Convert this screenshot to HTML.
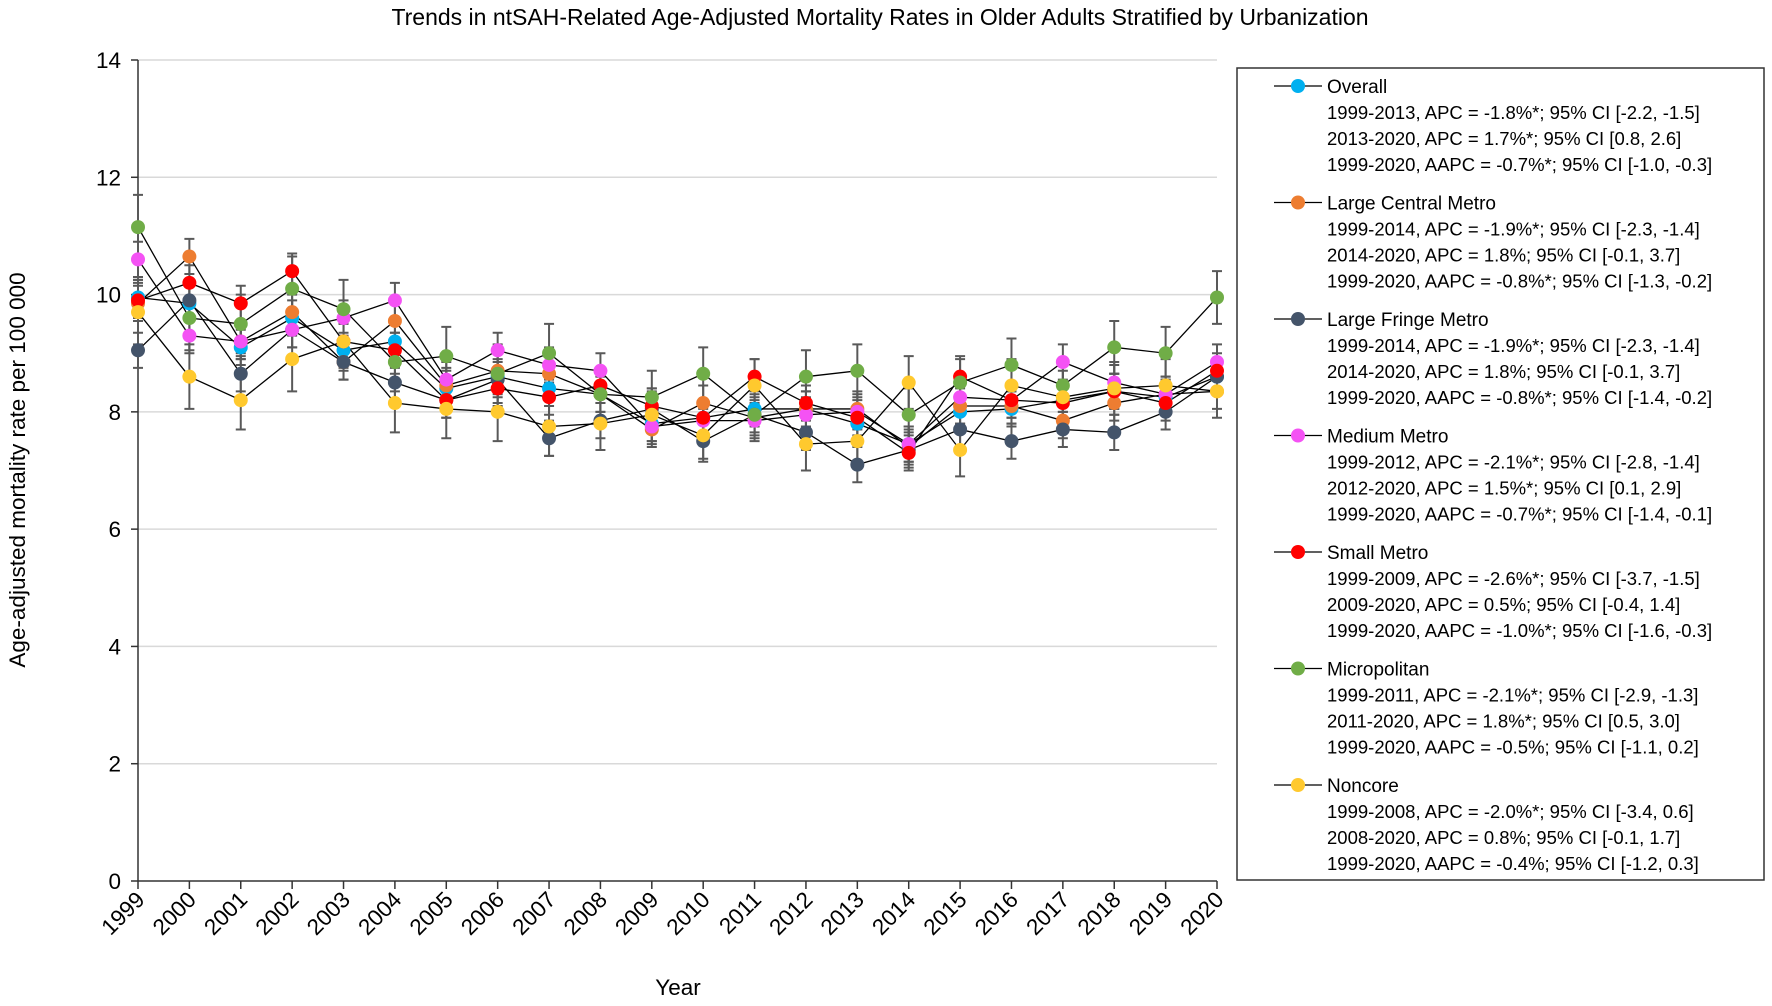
<!DOCTYPE html>
<html><head><meta charset="utf-8">
<style>
body{margin:0;background:#fff;}
svg text{font-family:"Liberation Sans",sans-serif;}
</style></head>
<body>
<svg id="chart" width="1772" height="1001" xmlns="http://www.w3.org/2000/svg">
<text x="880" y="25" text-anchor="middle" font-size="23" fill="#000">Trends in ntSAH-Related Age-Adjusted Mortality Rates in Older Adults Stratified by Urbanization</text>
<text transform="translate(25,470) rotate(-90)" text-anchor="middle" font-size="22.5" fill="#000">Age-adjusted mortality rate per 100 000</text>
<text x="678" y="995" text-anchor="middle" font-size="22.5" fill="#000">Year</text>
<g id="grid"></g><g id="axes"></g><g id="errs"></g><g id="lines"></g><g id="marks"></g>
<g id="legend"></g>
</svg>
<script>
const years=[1999,2000,2001,2002,2003,2004,2005,2006,2007,2008,2009,2010,2011,2012,2013,2014,2015,2016,2017,2018,2019,2020];
const yTicks=[0,2,4,6,8,10,12,14];
const names=["Overall","Large Central Metro","Large Fringe Metro","Medium Metro","Small Metro","Micropolitan","Noncore"];
const colors=["#00B0F0","#ED7D31","#44546A","#F452F4","#FF0000","#70AD47","#FFC92E"];
const overall=[9.95,9.85,9.1,9.6,9.05,9.2,8.4,8.6,8.4,8.3,7.8,7.9,8.05,8.05,7.8,7.45,8.0,8.05,8.2,8.35,8.25,8.6];
const largeCentral=[9.85,10.65,9.2,9.7,8.85,9.55,8.45,8.7,8.65,8.3,7.7,8.15,7.9,8.05,8.05,7.4,8.1,8.1,7.85,8.15,8.3,8.35];
const largeFringe=[9.05,9.9,8.65,9.4,8.85,8.5,8.2,8.55,7.55,7.85,8.05,7.5,7.95,7.65,7.1,7.35,7.7,7.5,7.7,7.65,8.0,8.6];
const medium=[10.6,9.3,9.2,9.4,9.6,9.9,8.55,9.05,8.8,8.7,7.75,7.85,7.85,7.95,8.0,7.45,8.25,8.2,8.85,8.5,8.3,8.85];
const small=[9.9,10.2,9.85,10.4,9.2,9.05,8.2,8.4,8.25,8.45,8.1,7.9,8.6,8.15,7.9,7.3,8.6,8.2,8.15,8.35,8.15,8.7];
const micro=[11.15,9.6,9.5,10.1,9.75,8.85,8.95,8.65,9.0,8.3,8.25,8.65,7.95,8.6,8.7,7.95,8.5,8.8,8.45,9.1,9.0,9.95];
const noncore=[9.7,8.6,8.2,8.9,9.2,8.15,8.05,8.0,7.75,7.8,7.95,7.6,8.45,7.45,7.5,8.5,7.35,8.45,8.25,8.4,8.45,8.35];
const errSmall=[0.3,0.3,0.3,0.3,0.3,0.3,0.3,0.3,0.3,0.3,0.3,0.3,0.3,0.3,0.3,0.3,0.3,0.3,0.3,0.3,0.3,0.3];
const errMicro=[0.55,0.55,0.5,0.55,0.5,0.5,0.5,0.5,0.5,0.45,0.45,0.45,0.45,0.45,0.45,0.45,0.45,0.45,0.45,0.45,0.45,0.45];
const errNoncore=[0.55,0.55,0.5,0.55,0.5,0.5,0.5,0.5,0.5,0.45,0.45,0.45,0.45,0.45,0.45,0.45,0.45,0.45,0.45,0.45,0.45,0.45];
const series=[overall,largeCentral,largeFringe,medium,small,micro,noncore];
const errors=[errSmall,errSmall,errSmall,errSmall,errSmall,errMicro,errNoncore];
const legendText=[
["1999-2013, APC = -1.8%*; 95% CI [-2.2, -1.5]","2013-2020, APC = 1.7%*; 95% CI [0.8, 2.6]","1999-2020, AAPC = -0.7%*; 95% CI [-1.0, -0.3]"],
["1999-2014, APC = -1.9%*; 95% CI [-2.3, -1.4]","2014-2020, APC = 1.8%; 95% CI [-0.1, 3.7]","1999-2020, AAPC = -0.8%*; 95% CI [-1.3, -0.2]"],
["1999-2014, APC = -1.9%*; 95% CI [-2.3, -1.4]","2014-2020, APC = 1.8%; 95% CI [-0.1, 3.7]","1999-2020, AAPC = -0.8%*; 95% CI [-1.4, -0.2]"],
["1999-2012, APC = -2.1%*; 95% CI [-2.8, -1.4]","2012-2020, APC = 1.5%*; 95% CI [0.1, 2.9]","1999-2020, AAPC = -0.7%*; 95% CI [-1.4, -0.1]"],
["1999-2009, APC = -2.6%*; 95% CI [-3.7, -1.5]","2009-2020, APC = 0.5%; 95% CI [-0.4, 1.4]","1999-2020, AAPC = -1.0%*; 95% CI [-1.6, -0.3]"],
["1999-2011, APC = -2.1%*; 95% CI [-2.9, -1.3]","2011-2020, APC = 1.8%*; 95% CI [0.5, 3.0]","1999-2020, AAPC = -0.5%; 95% CI [-1.1, 0.2]"],
["1999-2008, APC = -2.0%*; 95% CI [-3.4, 0.6]","2008-2020, APC = 0.8%; 95% CI [-0.1, 1.7]","1999-2020, AAPC = -0.4%; 95% CI [-1.2, 0.3]"]];
const NS="http://www.w3.org/2000/svg";
const X0=138,X1=1217,Y0=881,Y1=60;
const xS=i=>X0+(X1-X0)*i/(years.length-1);
const yS=v=>Y0-(Y0-Y1)*v/14;
function mk(tag,attrs,parent,text){const e=document.createElementNS(NS,tag);for(const k in attrs)e.setAttribute(k,attrs[k]);if(text!==undefined)e.textContent=text;document.getElementById(parent).appendChild(e);return e;}
yTicks.forEach(t=>{
 if(t>0){const g=mk('line',{x1:X0,x2:X1,y1:yS(t),y2:yS(t),stroke:'#d9d9d9','stroke-width':1.5},'grid');
 
 }
 const tk=mk('line',{x1:X0-7,x2:X0,y1:yS(t),y2:yS(t),stroke:'#333','stroke-width':1.5},'axes');
 
 
 const l=mk('text',{x:X0-17,y:yS(t)+8,'text-anchor':'end','font-size':22.5,fill:'#000'},'axes',t);
 
 
});
const ya=mk('line',{x1:X0,x2:X0,y1:Y1,y2:Y0,stroke:'#333','stroke-width':1.5},'axes');


const xa=mk('line',{x1:X0,x2:X1,y1:Y0,y2:Y0,stroke:'#333','stroke-width':1.5},'axes');


years.forEach((yr,i)=>{
 const tk=mk('line',{x1:xS(i),x2:xS(i),y1:Y0,y2:Y0+8,stroke:'#333','stroke-width':1.5},'axes');
 
 
 const l=mk('text',{transform:`translate(${xS(i)+8},${Y0+20}) rotate(-45)`,'text-anchor':'end','font-size':22.5,fill:'#000'},'axes',yr);
 
 
});
series.forEach((s,k)=>{
 s.forEach((v,i)=>{
  const e=errors[k][i],x=xS(i);
  const p=mk('path',{d:`M${x},${yS(v-e)}V${yS(v+e)}M${x-5},${yS(v-e)}H${x+5}M${x-5},${yS(v+e)}H${x+5}`,stroke:'#595959','stroke-width':2,fill:'none'},'errs');
  
  
 });
 const pl=mk('polyline',{points:s.map((v,i)=>xS(i)+','+yS(v)).join(' '),fill:'none',stroke:'#000','stroke-width':1.3},'lines');
 
 
});
series.forEach((s,k)=>{
 s.forEach((v,i)=>{
  const c=mk('circle',{cx:xS(i),cy:yS(v),r:7,fill:colors[k]},'marks');
  
  
 });
});
const box=mk('rect',{x:1237,y:68,width:527,height:812,fill:'#fff',stroke:'#333','stroke-width':1.5},'legend');


names.forEach((n,k)=>{
 const y=86+k*116.5;
 const ln=mk('line',{x1:1274,x2:1322,y1:y,y2:y,stroke:'#000','stroke-width':1.3},'legend');
 
 
 const c=mk('circle',{cx:1298,cy:y,r:7,fill:colors[k]},'legend');
 
 
 const t=mk('text',{x:1327,y:y+7,'font-size':19,fill:'#000'},'legend',n);
 
 
 legendText[k].forEach((s,j)=>{
  const tt=mk('text',{x:1327,y:y+7+26*(j+1),'font-size':18.5,fill:'#000'},'legend',s);
  
  
 });
});
</script>
</body></html>
